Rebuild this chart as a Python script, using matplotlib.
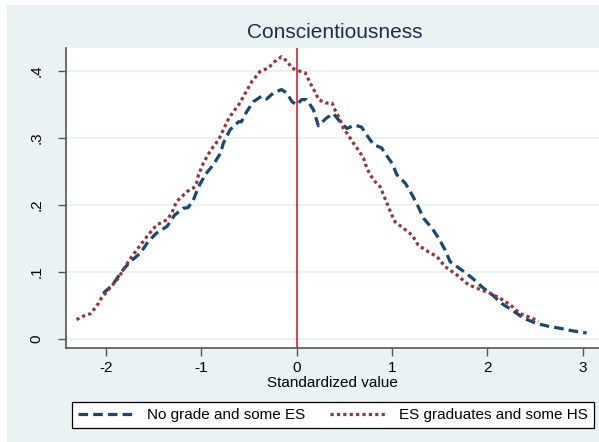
import matplotlib
matplotlib.use("Agg")
import matplotlib.pyplot as plt
from matplotlib.patches import Rectangle

plt.rcParams["font.family"] = ["Liberation Sans", "DejaVu Sans"]

# Kernel density estimates of the standardized conscientiousness score
x_no_grade = [-2.03, -1.93, -1.84, -1.75, -1.64, -1.56, -1.47, -1.36, -1.28, -1.19,
              -1.14, -1.085, -1.03, -0.96, -0.875, -0.80, -0.77, -0.70, -0.61, -0.58,
              -0.525, -0.455, -0.37, -0.315, -0.245, -0.16, -0.105, -0.05, 0.0, 0.05,
              0.105, 0.175, 0.227, 0.315, 0.385, 0.455, 0.525, 0.61, 0.68, 0.735,
              0.805, 0.89, 0.96, 1.0, 1.05, 1.14, 1.21, 1.275, 1.33, 1.42,
              1.49, 1.555, 1.61, 1.73, 1.84, 1.94, 2.05, 2.15, 2.26, 2.38,
              2.52, 2.64, 2.76, 2.90, 3.04]
y_no_grade = [0.068, 0.081, 0.100, 0.115, 0.128, 0.145, 0.158, 0.168, 0.185, 0.195,
              0.196, 0.207, 0.227, 0.245, 0.260, 0.277, 0.292, 0.312, 0.324, 0.324,
              0.339, 0.354, 0.362, 0.358, 0.367, 0.372, 0.367, 0.354, 0.349, 0.357,
              0.357, 0.342, 0.318, 0.330, 0.336, 0.324, 0.314, 0.319, 0.316, 0.304,
              0.290, 0.285, 0.270, 0.262, 0.245, 0.232, 0.215, 0.197, 0.180, 0.165,
              0.150, 0.133, 0.115, 0.103, 0.091, 0.078, 0.066, 0.053, 0.043, 0.031,
              0.023, 0.019, 0.016, 0.012, 0.009]

x_es_grad = [-2.31, -2.24, -2.16, -2.08, -2.05, -1.96, -1.87, -1.80, -1.73, -1.64,
             -1.56, -1.47, -1.36, -1.31, -1.26, -1.15, -1.085, -1.05, -1.03, -0.98,
             -0.93, -0.875, -0.82, -0.77, -0.72, -0.665, -0.61, -0.47, -0.385, -0.30,
             -0.23, -0.16, -0.10, -0.05, 0.02, 0.09, 0.14, 0.19, 0.23, 0.30,
             0.37, 0.40, 0.455, 0.49, 0.54, 0.595, 0.645, 0.70, 0.735, 0.77,
             0.82, 0.875, 0.945, 0.997, 1.03, 1.12, 1.21, 1.275, 1.38, 1.47,
             1.555, 1.68, 1.80, 1.89, 2.03, 2.13, 2.24, 2.34, 2.47, 2.535]
y_es_grad = [0.029, 0.034, 0.038, 0.053, 0.061, 0.076, 0.091, 0.108, 0.123, 0.140,
             0.155, 0.170, 0.178, 0.188, 0.205, 0.220, 0.225, 0.233, 0.245, 0.262,
             0.275, 0.287, 0.297, 0.312, 0.327, 0.339, 0.349, 0.384, 0.399, 0.404,
             0.414, 0.421, 0.414, 0.404, 0.400, 0.397, 0.382, 0.369, 0.357, 0.352,
             0.352, 0.342, 0.327, 0.314, 0.304, 0.292, 0.282, 0.270, 0.255, 0.245,
             0.235, 0.227, 0.203, 0.185, 0.175, 0.165, 0.155, 0.140, 0.130, 0.123,
             0.108, 0.0955, 0.081, 0.0757, 0.068, 0.061, 0.051, 0.038, 0.031, 0.026]

label_no_grade = "No grade and some ES"
label_es_grad = "ES graduates and some HS"
x_ticks = [-2, -1, 0, 1, 2, 3]
y_ticks = [0, 0.1, 0.2, 0.3, 0.4]
y_tick_labels = ["0", ".1", ".2", ".3", ".4"]

W, H = 599, 442
bg = "#EAF2F3"
navy = "#1A476F"
maroon = "#90353B"

fig = plt.figure(figsize=(W / 100, H / 100), dpi=100, facecolor="white")
fig.patches.append(Rectangle((7 / W, 0), 1 - 7 / W, 1 - 5 / H,
                             transform=fig.transFigure, facecolor=bg,
                             edgecolor="none", zorder=-10))

ax = fig.add_axes([66 / W, (H - 348) / H, (W - 66) / W, 300 / H])
ax.set_facecolor("white")

ax.plot(x_no_grade, y_no_grade, color=navy, lw=2.3, dashes=(3.0, 1.6),
        label=label_no_grade, solid_capstyle="butt", dash_capstyle="butt")
ax.plot(x_es_grad, y_es_grad, color=maroon, lw=2.3, dashes=(1.0, 1.0),
        label=label_es_grad, dash_capstyle="butt")
ax.axvline(0, color="#D40A30", lw=1.1, zorder=1)

ax.set_xlim(-2.42, 3.17)
ax.set_ylim(-0.0134, 0.434)

ax.set_yticks(y_ticks)
ax.set_yticklabels(y_tick_labels, rotation=90, va="center")
ax.set_xticks(x_ticks)
ax.set_xticklabels([str(t) for t in x_ticks])
ax.tick_params(axis="both", direction="out", length=6, width=1.0,
               color="#555555", labelsize=11, labelcolor="black")
ax.tick_params(axis="y", pad=10)
ax.tick_params(axis="x", pad=3)

ax.grid(axis="y", color=bg, lw=1.5)
ax.set_axisbelow(True)
for side in ("top", "right"):
    ax.spines[side].set_visible(False)
for side in ("left", "bottom"):
    ax.spines[side].set_color("#555555")
    ax.spines[side].set_linewidth(1.2)

ax.set_xlabel("Standardized value", fontsize=11, labelpad=1)
fig.text(335 / W, 1 - 33 / H, "Conscientiousness", ha="center", va="center",
         fontsize=15, color="#1E2D4F")

leg = fig.legend(loc="lower left", bbox_to_anchor=(72 / W, 1 - 428 / H, 522 / W, 30 / H),
                 mode="expand", ncol=2, frameon=True, fancybox=False,
                 edgecolor="black", facecolor="white", framealpha=1,
                 fontsize=11, handlelength=3.7, borderaxespad=0,
                 columnspacing=1.0, handletextpad=0.8)
leg.get_frame().set_linewidth(0.9)

fig.savefig("out.png", dpi=100, facecolor=fig.get_facecolor())
